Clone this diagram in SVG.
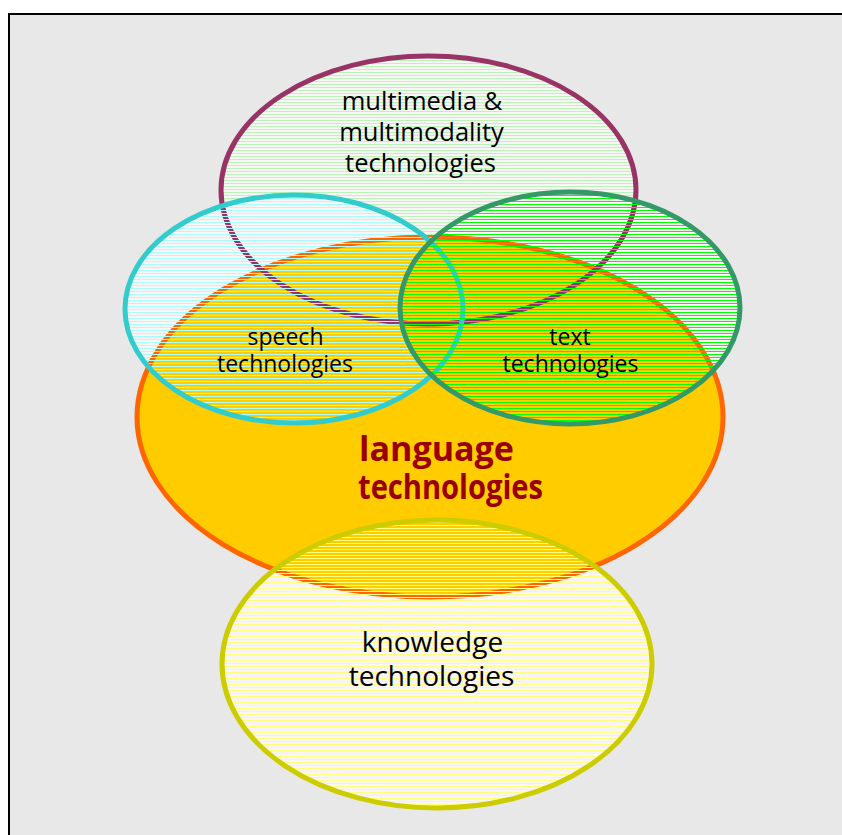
<svg xmlns="http://www.w3.org/2000/svg" width="842" height="835" viewBox="0 0 842 835">
  <defs>
    <pattern id="hM" patternUnits="userSpaceOnUse" width="8" height="3"><rect width="8" height="1" fill="#b8f5b8"/></pattern>
    <pattern id="hS" patternUnits="userSpaceOnUse" width="8" height="3"><rect width="8" height="1" fill="#a8ffff"/></pattern>
    <pattern id="hT" patternUnits="userSpaceOnUse" width="8" height="3"><rect width="8" height="1" fill="#00ff00"/></pattern>
    <pattern id="hK" patternUnits="userSpaceOnUse" width="8" height="3"><rect width="8" height="1" fill="#ffff80"/></pattern>
  </defs>
  <style>
    .lbl { font-family: "Open Sans", "Noto Sans", "Liberation Sans", sans-serif; fill: #000; text-anchor: middle; }
    .big { font-family: "Open Sans", "Noto Sans", "Liberation Sans", sans-serif; font-weight: bold; fill: #990000; text-anchor: middle; }
    .ring { stroke-width: 5; }
  </style>
  <rect x="9" y="14" width="840" height="830" fill="#e8e8e8" stroke="#000" stroke-width="2"/>
  <g id="underlay" fill="#fbf6f6">
    <ellipse cx="428.5" cy="190" rx="207.5" ry="134"/>
    <ellipse cx="294" cy="309" rx="169" ry="114"/>
    <ellipse cx="570" cy="308" rx="170" ry="116"/>
    <ellipse cx="437" cy="664" rx="215" ry="144"/>
  </g>
  <g id="language">
    <ellipse class="ring" cx="430" cy="417" rx="293" ry="180" fill="#ffcc00" stroke="#ff6600"/>
  </g>
  <g id="multimedia">
    <ellipse class="ring" cx="428.5" cy="190" rx="207.5" ry="134" fill="url(#hM)" stroke="#993366"/>
  </g>
  <g id="speech">
    <ellipse class="ring" cx="294" cy="309" rx="169" ry="114" fill="url(#hS)" stroke="#33cccc"/>
  </g>
  <g id="text">
    <ellipse class="ring" cx="570" cy="308" rx="170" ry="116" fill="url(#hT)" stroke="#339966"/>
  </g>
  <g id="knowledge">
    <ellipse class="ring" cx="437" cy="664" rx="215" ry="144" fill="url(#hK)" stroke="#cccc00"/>
  </g>
  <g id="connectors"></g>
  <g id="labels">
    <text class="lbl" font-size="25.5" x="422" y="110">multimedia &amp;</text>
    <text class="lbl" font-size="25.5" x="421.5" y="141">multimodality</text>
    <text class="lbl" font-size="25.5" x="420.5" y="172">technologies</text>
    <text class="lbl" font-size="23" x="285.5" y="345">speech</text>
    <text class="lbl" font-size="23" x="285" y="372">technologies</text>
    <text class="lbl" font-size="23" x="570" y="345">text</text>
    <text class="lbl" font-size="23" x="570.5" y="372">technologies</text>
    <text class="big" font-size="34" x="436.5" y="461" textLength="155" lengthAdjust="spacingAndGlyphs">language</text>
    <text class="big" font-size="34" x="450.5" y="499" textLength="185" lengthAdjust="spacingAndGlyphs">technologies</text>
    <text class="lbl" font-size="28" x="432.5" y="652">knowledge</text>
    <text class="lbl" font-size="28" x="431.5" y="686">technologies</text>
  </g>
</svg>
